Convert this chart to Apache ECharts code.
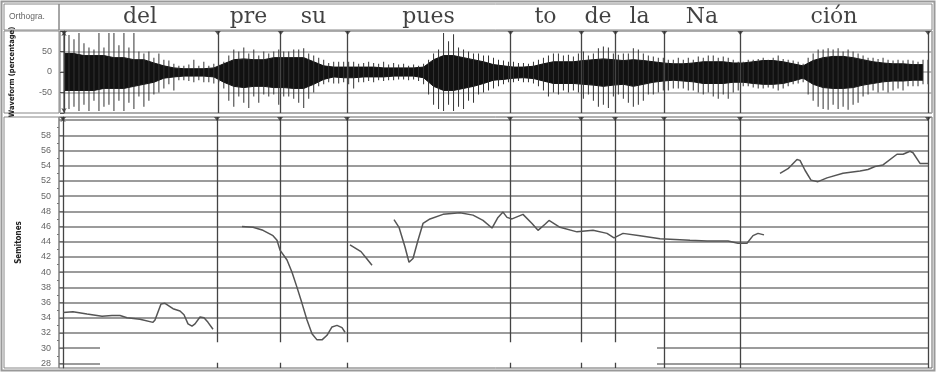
<!DOCTYPE html>
<html>
<head>
<meta charset="utf-8">
<script src="https://cdn.jsdelivr.net/npm/echarts@6/dist/echarts.min.js"></script>
<style>
    html, body {margin: 0; padding: 0; background: #fff;}
    #main {width: 937px; height: 373px;}
</style>
</head>
<body>
<div id="main"></div>
<script>
// time axis in ms, 0 = start of "del"
let words = ['del', 'pre', 'su', 'pues', 'to', 'de', 'la', 'Na', 'ción'];
let boundaries = [0, 308, 434, 568, 894, 1036, 1104, 1202, 1354, 1730];
// lowest semitone each boundary line reaches in the pitch panel
let boundaryBottom = [27.4, 30.8, 30.8, 30.8, 30.8, 30.8, 30.8, 27.4, 27.4, 27.4];

// waveform peaks (percentage), one every 10 ms
let waveStep = 10;
let waveUpper = [95, 90, 80, 95, 70, 60, 55, 95, 60, 95, 95, 65, 95, 60, 95, 50, 45, 50, 35, 45, 30, 28, 20, 15, 15, 18, 30, 15, 25, 15, 20, 18, 25, 40, 55, 50, 60, 45, 55, 40, 50, 45, 50,
    55, 50, 50, 55, 55, 58, 45, 40, 35, 30, 22, 25, 25, 25, 25, 25, 20, 22, 25, 22, 20, 25, 18, 22, 18, 20, 15, 18, 15, 20, 30, 45, 55, 95, 75, 92, 60, 55, 50, 45, 45, 40, 40,
    35, 30, 28, 25, 25, 22, 22, 20, 25, 30, 35, 40, 45, 45, 40, 42, 38, 45, 50, 40, 45, 58, 62, 60, 45, 42, 45, 45, 58, 55, 45, 40, 38, 35, 35, 30, 30, 35, 30, 35, 30, 38, 35, 40,
    40, 35, 38, 35, 30, 25, 25, 30, 30, 32, 35, 30, 35, 40, 32, 30, 28, 25, 20, 35, 45, 55, 55, 58, 55, 58, 50, 55, 50, 45, 40, 35, 35, 32, 35, 30, 28, 30, 28, 30, 28, 25, 30, 30];
let waveLower = [-95, -90, -85, -95, -80, -95, -70, -95, -85, -80, -95, -70, -95, -75, -90, -60, -85, -70, -55, -50, -40, -30, -45, -20, -20, -22, -25, -20, -25, -25, -28, -25, -40, -70, -85, -60, -75, -88, -60, -75, -55, -60, -55,
    -80, -60, -60, -65, -75, -88, -65, -50, -35, -30, -25, -28, -28, -25, -30, -40, -25, -25, -22, -25, -20, -22, -20, -20, -18, -18, -20, -18, -22, -30, -55, -80, -90, -95, -80, -95, -85, -90, -70, -75, -55, -50, -45,
    -40, -35, -30, -25, -25, -22, -25, -25, -28, -35, -45, -60, -50, -55, -45, -50, -45, -50, -65, -55, -70, -85, -80, -88, -60, -55, -65, -75, -85, -80, -70, -55, -55, -50, -45, -45, -40, -40, -40, -45, -45, -50, -55, -50,
    -60, -65, -55, -65, -50, -45, -35, -35, -38, -40, -40, -38, -40, -45, -40, -35, -30, -28, -25, -55, -70, -85, -90, -92, -80, -90, -85, -92, -80, -75, -60, -55, -45, -50, -45, -50, -45, -40, -45, -35, -35, -35, -30, -30];

// dense black core of the waveform, one every 20 ms
let coreStep = 20;
let coreUpper = [45, 45, 40, 40, 40, 35, 35, 30, 30, 22, 15, 10, 8, 8, 8, 10, 20, 30, 32, 30, 30, 35,
    35, 35, 35, 25, 15, 12, 12, 12, 12, 12, 10, 10, 10, 10, 12, 30, 40, 40, 35, 30, 25,
    18, 15, 12, 12, 14, 20, 25, 25, 25, 28, 30, 32, 30, 28, 30, 28, 25, 22, 20, 20, 22, 25,
    25, 25, 22, 22, 25, 28, 28, 25, 20, 15, 28, 35, 38, 38, 35, 30, 25, 22, 20, 20, 18, 18];
let coreLower = [-45, -45, -45, -45, -40, -40, -40, -35, -30, -25, -15, -12, -10, -10, -10, -12, -25, -35, -38, -35, -35, -38,
    -38, -40, -40, -30, -18, -12, -14, -14, -12, -12, -12, -10, -10, -10, -14, -35, -45, -45, -40, -35, -28,
    -20, -18, -15, -14, -16, -22, -28, -28, -28, -30, -32, -35, -32, -30, -35, -30, -25, -22, -20, -22, -24, -28,
    -28, -28, -25, -25, -28, -30, -30, -28, -22, -15, -30, -38, -40, -40, -38, -32, -28, -24, -22, -22, -20, -20];

// pitch contour [ms, semitones]
let pitchDel = [[0, 34.7], [20, 34.8], [48, 34.5], [78, 34.2], [98, 34.3], [114, 34.3], [128, 34.0], [154, 33.8], [180, 33.4], [184, 33.7],
    [196, 35.8], [204, 35.9], [220, 35.2], [234, 34.9], [242, 34.4], [250, 33.2], [258, 32.9], [264, 33.2], [274, 34.1], [282, 34.0], [290, 33.4], [300, 32.5]];
let pitchPreSu = [[358, 46.0], [380, 45.9], [400, 45.5], [420, 44.8], [428, 44.2], [434, 42.9], [448, 41.6], [458, 40.0], [468, 38.0], [478, 35.9],
    [488, 33.7], [498, 31.9], [508, 31.1], [518, 31.1], [528, 31.7], [538, 32.8], [548, 33.0], [558, 32.7], [564, 32.1]];
let pitchPuesOnset = [[574, 43.6], [596, 42.7], [606, 41.9], [618, 40.9]];
let pitchPuesNa = [[662, 46.9], [672, 45.9], [684, 43.3], [692, 41.3], [700, 41.8], [710, 44.2], [720, 46.4], [734, 47.0], [760, 47.6], [794, 47.8],
    [820, 47.5], [840, 46.8], [858, 45.8], [870, 47.2], [880, 47.9], [888, 47.2], [898, 47.0], [920, 47.6], [938, 46.4], [950, 45.5], [964, 46.3],
    [972, 46.8], [994, 45.9], [1028, 45.3], [1060, 45.5], [1088, 45.1], [1102, 44.5], [1120, 45.1], [1154, 44.8], [1194, 44.4], [1254, 44.2],
    [1288, 44.1], [1330, 44.1], [1350, 43.8], [1368, 43.8], [1380, 44.8], [1390, 45.1], [1402, 44.9]];
let pitchCion = [[1434, 53.0], [1450, 53.6], [1468, 54.8], [1474, 54.7], [1484, 53.4], [1496, 52.1], [1510, 51.9], [1528, 52.4], [1560, 53.0],
    [1594, 53.3], [1610, 53.5], [1624, 53.9], [1640, 54.1], [1668, 55.5], [1680, 55.5], [1694, 55.9], [1700, 55.7], [1714, 54.3], [1730, 54.3]];

let semitoneLabels = [28, 30, 32, 34, 36, 38, 40, 42, 44, 46, 48, 50, 52, 54, 56, 58];
let semitoneMinor = [29, 31, 33, 35, 37, 39, 41, 43, 45, 47, 49, 51, 53, 55, 57, 59];
let semitoneGrid = [32, 34, 36, 38, 40, 42, 44, 46, 48, 50, 52, 54, 56, 58, 60];
let semitoneGridPartial = [28, 30];
let partialSpans = [[-8, 74], [1188, 1730]];

let tMin = -8, tMax = 1738;
let stMin = 27.4, stMax = 60.4;

let main = document.getElementById('main');
let chart = echarts.init(main, null, {renderer: 'canvas'});

let labelFont = {color: '#666', fontSize: 9, fontFamily: 'Liberation Sans'};
let nameFont = {
    color: '#222', fontSize: 7.5, fontWeight: 'bold',
    fontFamily: "'DejaVu Sans Condensed', 'Liberation Sans Narrow', sans-serif"
};

let hiddenX = (gridIndex) => ({
    type: 'value', gridIndex: gridIndex, min: tMin, max: tMax, show: false
});

let pitchGridLines = semitoneGrid.map(v => ({coords: [[tMin, v], [boundaries[boundaries.length - 1], v]]}));
semitoneGridPartial.forEach(v => {
    partialSpans.forEach(span => pitchGridLines.push({coords: [[span[0], v], [span[1], v]]}));
});

let pitchBoundaryLines = boundaries.map((t, i) => ({coords: [[t, stMax], [t, boundaryBottom[i]]]}));
boundaries.forEach((t, i) => {
    if (boundaryBottom[i] > stMin) pitchBoundaryLines.push({coords: [[t, 28.1], [t, stMin]]});
});

let option = {
    animation: false,
    backgroundColor: '#fff',
    grid: [
        {left: 59, width: 873, top: 4, height: 26, show: true, borderColor: '#888', borderWidth: 1},
        {left: 59, width: 873, top: 31, height: 82, show: true, borderColor: '#666', borderWidth: 1},
        {left: 59, width: 873, top: 117, height: 251, show: true, borderColor: '#666', borderWidth: 1}
    ],
    xAxis: [hiddenX(0), hiddenX(1), hiddenX(2)],
    yAxis: [
        {type: 'value', gridIndex: 0, min: 0, max: 1, show: false},
        {
            type: 'value', gridIndex: 1, min: -100, max: 100, interval: 50,
            name: 'Waveform (percentage)', nameLocation: 'middle', nameGap: 44, nameRotate: 90,
            nameTextStyle: nameFont,
            axisLine: {show: true, lineStyle: {color: '#555'}, symbol: ['arrow', 'arrow'], symbolSize: [4, 5]},
            axisTick: {show: true, length: 4, lineStyle: {color: '#555'}},
            axisLabel: {...labelFont, margin: 8, formatter: v => Math.abs(v) === 100 ? '' : v},
            splitLine: {show: true, lineStyle: {color: '#aaa', width: 1.5}}
        },
        {
            type: 'value', gridIndex: 2, min: stMin, max: stMax,
            name: 'Semitones', nameLocation: 'middle', nameGap: 36, nameRotate: 90,
            nameTextStyle: {...nameFont, fontSize: 8},
            axisLine: {show: true, lineStyle: {color: '#555'}, symbol: ['none', 'arrow'], symbolSize: [4, 5]},
            axisTick: {show: true, length: 4, customValues: semitoneLabels, lineStyle: {color: '#555'}},
            axisLabel: {...labelFont, margin: 8, customValues: semitoneLabels},
            splitLine: {show: false}
        },
        {
            type: 'value', gridIndex: 2, min: stMin, max: stMax, position: 'left',
            axisLine: {show: false},
            axisTick: {show: true, length: 2, customValues: semitoneMinor, lineStyle: {color: '#777'}},
            axisLabel: {show: false},
            splitLine: {show: false}
        }
    ],
    graphic: [
        {type: 'rect', shape: {x: 1.5, y: 1.5, width: 933, height: 369}, style: {fill: 'none', stroke: '#999', lineWidth: 2}, z: 100},
        {type: 'rect', shape: {x: 4, y: 4, width: 55, height: 26}, style: {fill: 'none', stroke: '#888', lineWidth: 1}},
        {type: 'rect', shape: {x: 4, y: 31, width: 55, height: 82}, style: {fill: 'none', stroke: '#888', lineWidth: 1}},
        {type: 'rect', shape: {x: 4, y: 117, width: 55, height: 251}, style: {fill: 'none', stroke: '#888', lineWidth: 1}},
        {type: 'text', left: 9, top: 12, style: {text: 'Orthogra.', fill: '#666', fontSize: 8.5, fontFamily: 'Liberation Sans'}}
    ],
    series: [
        // word tier
        {
            type: 'scatter', xAxisIndex: 0, yAxisIndex: 0, symbolSize: 0, silent: true,
            data: words.map((w, i) => ({value: [(boundaries[i] + boundaries[i + 1]) / 2, 0.5], name: w})),
            label: {
                show: true, position: 'inside', formatter: p => p.name,
                fontFamily: "'DejaVu Serif', serif", fontSize: 22, color: '#111'
            }
        },
        // waveform core
        {
            type: 'line', xAxisIndex: 1, yAxisIndex: 1, showSymbol: false, silent: true,
            data: coreUpper.map((v, i) => [i * coreStep, v]),
            lineStyle: {color: '#111', width: 1}, areaStyle: {color: '#111', opacity: 1}, z: 2
        },
        {
            type: 'line', xAxisIndex: 1, yAxisIndex: 1, showSymbol: false, silent: true,
            data: coreLower.map((v, i) => [i * coreStep, v]),
            lineStyle: {color: '#111', width: 1}, areaStyle: {color: '#111', opacity: 1}, z: 2
        },
        // waveform spikes
        {
            type: 'bar', xAxisIndex: 1, yAxisIndex: 1, barWidth: 1, silent: true,
            data: waveUpper.map((v, i) => [i * waveStep, v]),
            itemStyle: {color: '#333'}, z: 3
        },
        {
            type: 'bar', xAxisIndex: 1, yAxisIndex: 1, barWidth: 1, barGap: '-100%', silent: true,
            data: waveLower.map((v, i) => [i * waveStep, v]),
            itemStyle: {color: '#333'}, z: 3
        },
        // boundaries in waveform
        {
            type: 'lines', coordinateSystem: 'cartesian2d', xAxisIndex: 1, yAxisIndex: 1, silent: true,
            data: boundaries.map(t => ({coords: [[t, -100], [t, 100]]})),
            lineStyle: {color: '#444', width: 1.3, opacity: 1}, z: 4
        },
        {
            type: 'scatter', xAxisIndex: 1, yAxisIndex: 1, silent: true, clip: false,
            symbol: 'triangle', symbolRotate: 180, symbolSize: [6, 4], symbolOffset: [0, 2],
            data: boundaries.map(t => [t, 100]),
            itemStyle: {color: '#333'}, z: 5
        },
        // pitch panel grid
        {
            type: 'lines', coordinateSystem: 'cartesian2d', xAxisIndex: 2, yAxisIndex: 2, silent: true,
            data: pitchGridLines,
            lineStyle: {color: '#7a7a7a', width: 1.5, opacity: 1}, z: 1
        },
        {
            type: 'lines', coordinateSystem: 'cartesian2d', xAxisIndex: 2, yAxisIndex: 2, silent: true,
            data: pitchBoundaryLines,
            lineStyle: {color: '#444', width: 1.3, opacity: 1}, z: 2
        },
        {
            type: 'scatter', xAxisIndex: 2, yAxisIndex: 2, silent: true, clip: false,
            symbol: 'triangle', symbolRotate: 180, symbolSize: [6, 4], symbolOffset: [0, 2],
            data: boundaries.map(t => [t, stMax]),
            itemStyle: {color: '#333'}, z: 5
        },
        // pitch contour
        ...[pitchDel, pitchPreSu, pitchPuesOnset, pitchPuesNa, pitchCion].map(segment => ({
            type: 'line', xAxisIndex: 2, yAxisIndex: 2, showSymbol: false, silent: true,
            data: segment,
            lineStyle: {color: '#555', width: 1.5}, z: 4
        }))
    ]
};

chart.setOption(option);
</script>
</body>
</html>
